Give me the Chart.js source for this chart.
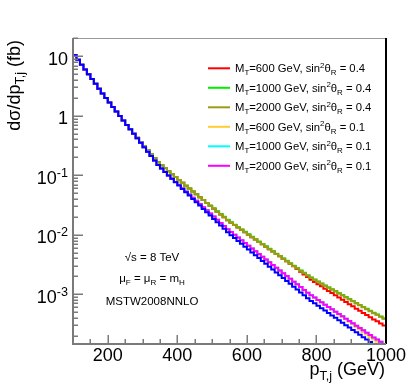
<!DOCTYPE html>
<html>
<head>
<meta charset="utf-8">
<script src="https://cdn.jsdelivr.net/npm/chart.js@4/dist/chart.umd.min.js"></script>
<style>
  html, body { margin: 0; background: #fff; }
  #plot { display: block; }
</style>
</head>
<body>
<canvas id="plot" width="407" height="391"></canvas>
<script>
// histogram bins: 10 GeV wide, from 100 to 1000 GeV
const binStart = 100;
const binWidth = 10;

// dsigma/dpT (fb), one value per bin
const mt600s04 = [
  10.5, 8.71, 7.23, 6.01, 4.99, 4.15, 3.44, 2.86, 2.38, 1.99,
  1.67, 1.41, 1.18, 0.993, 0.836, 0.703, 0.592, 0.501, 0.427, 0.362,
  0.309, 0.265, 0.226, 0.194, 0.166, 0.148, 0.132, 0.117, 0.104, 0.0933,
  0.0836, 0.0746, 0.0668, 0.0598, 0.0536, 0.0479, 0.0429, 0.0384, 0.0343, 0.0307,
  0.0275, 0.0245, 0.0220, 0.0197, 0.0176, 0.0160, 0.0146, 0.0133, 0.0121, 0.0110,
  0.0100, 0.00912, 0.00832, 0.00759, 0.00692, 0.00630, 0.00574, 0.00524, 0.00475, 0.00434,
  0.00395, 0.00360, 0.00327, 0.00296, 0.00266, 0.00239, 0.00216, 0.00195, 0.00176, 0.00161,
  0.00148, 0.00136, 0.00124, 0.00114, 0.00105, 0.000959, 0.000879, 0.000809, 0.000741, 0.000681,
  0.000627, 0.000574, 0.000527, 0.000486, 0.000447, 0.000410, 0.000378, 0.000352, 0.000324, 0.000299
];
const mt1000s04 = [
  10.5, 8.71, 7.23, 6.01, 4.99, 4.15, 3.44, 2.86, 2.38, 1.99,
  1.67, 1.41, 1.18, 0.993, 0.836, 0.703, 0.592, 0.501, 0.427, 0.362,
  0.309, 0.265, 0.226, 0.194, 0.166, 0.148, 0.132, 0.117, 0.104, 0.0933,
  0.0836, 0.0746, 0.0668, 0.0598, 0.0536, 0.0479, 0.0429, 0.0384, 0.0343, 0.0307,
  0.0279, 0.0249, 0.0223, 0.0200, 0.0179, 0.0162, 0.0148, 0.0135, 0.0123, 0.0112,
  0.0102, 0.00926, 0.00844, 0.00770, 0.00702, 0.00639, 0.00583, 0.00532, 0.00482, 0.00441,
  0.00401, 0.00365, 0.00333, 0.00303, 0.00276, 0.00252, 0.00229, 0.00209, 0.00192, 0.00178,
  0.00164, 0.00152, 0.00141, 0.00131, 0.00122, 0.00113, 0.00105, 0.000969, 0.000896, 0.000830,
  0.000771, 0.000714, 0.000662, 0.000614, 0.000569, 0.000527, 0.000489, 0.000458, 0.000424, 0.000394
];
const mt2000s04 = [
  10.5, 8.71, 7.23, 6.01, 4.99, 4.15, 3.44, 2.86, 2.38, 1.99,
  1.67, 1.41, 1.18, 0.993, 0.836, 0.703, 0.592, 0.501, 0.427, 0.362,
  0.309, 0.265, 0.226, 0.194, 0.166, 0.148, 0.132, 0.117, 0.104, 0.0933,
  0.0836, 0.0746, 0.0668, 0.0598, 0.0536, 0.0479, 0.0429, 0.0384, 0.0343, 0.0307,
  0.0275, 0.0245, 0.0220, 0.0197, 0.0176, 0.0160, 0.0146, 0.0133, 0.0121, 0.0110,
  0.0100, 0.00912, 0.00832, 0.00759, 0.00692, 0.00630, 0.00574, 0.00524, 0.00475, 0.00434,
  0.00395, 0.00360, 0.00328, 0.00299, 0.00272, 0.00248, 0.00226, 0.00206, 0.00189, 0.00175,
  0.00162, 0.00150, 0.00139, 0.00129, 0.00120, 0.00111, 0.00103, 0.000955, 0.000883, 0.000818,
  0.000760, 0.000703, 0.000652, 0.000605, 0.000561, 0.000519, 0.000482, 0.000451, 0.000418, 0.000388
];
const mt600s01 = [
  10.5, 8.71, 7.23, 6.01, 4.99, 4.15, 3.44, 2.86, 2.38, 1.99,
  1.67, 1.41, 1.18, 0.993, 0.836, 0.703, 0.592, 0.498, 0.419, 0.352,
  0.296, 0.249, 0.210, 0.177, 0.149, 0.130, 0.114, 0.0995, 0.0871, 0.0773,
  0.0684, 0.0605, 0.0536, 0.0474, 0.0420, 0.0372, 0.0329, 0.0291, 0.0258, 0.0228,
  0.0202, 0.0179, 0.0158, 0.0140, 0.0124, 0.0111, 0.00998, 0.00899, 0.00809, 0.00728,
  0.00655, 0.00587, 0.00528, 0.00475, 0.00428, 0.00384, 0.00345, 0.00310, 0.00279, 0.00250,
  0.00225, 0.00202, 0.00182, 0.00163, 0.00147, 0.00132, 0.00118, 0.00106, 0.000962, 0.000879,
  0.000802, 0.000733, 0.000670, 0.000611, 0.000560, 0.000508, 0.000460, 0.000419, 0.000379, 0.000344,
  0.000313, 0.000283, 0.000256, 0.000233, 0.000211, 0.000191, 0.000174, 0.000159, 0.000145, 0.000132
];
const mt1000s01 = [
  10.5, 8.71, 7.23, 6.01, 4.99, 4.15, 3.44, 2.86, 2.38, 1.99,
  1.67, 1.41, 1.18, 0.993, 0.836, 0.703, 0.592, 0.498, 0.419, 0.352,
  0.296, 0.249, 0.210, 0.177, 0.149, 0.130, 0.114, 0.0995, 0.0871, 0.0773,
  0.0684, 0.0605, 0.0536, 0.0474, 0.0420, 0.0372, 0.0329, 0.0291, 0.0258, 0.0228,
  0.0202, 0.0179, 0.0158, 0.0140, 0.0124, 0.0111, 0.00998, 0.00899, 0.00809, 0.00728,
  0.00655, 0.00587, 0.00528, 0.00475, 0.00428, 0.00384, 0.00345, 0.00310, 0.00279, 0.00250,
  0.00225, 0.00202, 0.00182, 0.00163, 0.00147, 0.00132, 0.00118, 0.00106, 0.000962, 0.000879,
  0.000802, 0.000733, 0.000670, 0.000611, 0.000560, 0.000511, 0.000466, 0.000427, 0.000389, 0.000355,
  0.000325, 0.000296, 0.000270, 0.000248, 0.000226, 0.000206, 0.000188, 0.000174, 0.000159, 0.000146
];
const mt2000s01 = [
  10.5, 8.71, 7.23, 6.01, 4.99, 4.15, 3.44, 2.86, 2.38, 1.99,
  1.67, 1.41, 1.18, 0.993, 0.836, 0.703, 0.592, 0.498, 0.419, 0.352,
  0.296, 0.249, 0.210, 0.177, 0.149, 0.130, 0.114, 0.0995, 0.0871, 0.0773,
  0.0684, 0.0605, 0.0536, 0.0474, 0.0420, 0.0372, 0.0329, 0.0291, 0.0258, 0.0228,
  0.0202, 0.0179, 0.0158, 0.0140, 0.0124, 0.0111, 0.00998, 0.00899, 0.00809, 0.00728,
  0.00655, 0.00587, 0.00528, 0.00475, 0.00428, 0.00384, 0.00345, 0.00310, 0.00279, 0.00250,
  0.00225, 0.00202, 0.00182, 0.00163, 0.00147, 0.00132, 0.00118, 0.00106, 0.000962, 0.000879,
  0.000802, 0.000733, 0.000670, 0.000611, 0.000560, 0.000511, 0.000466, 0.000427, 0.000389, 0.000355,
  0.000325, 0.000296, 0.000270, 0.000248, 0.000226, 0.000206, 0.000188, 0.000174, 0.000159, 0.000146
];
// blue curve (not in the legend)
const blueCurve = [
  10.5, 8.71, 7.23, 6.01, 4.99, 4.15, 3.44, 2.86, 2.38, 1.99,
  1.67, 1.41, 1.18, 0.993, 0.836, 0.703, 0.592, 0.498, 0.419, 0.352,
  0.296, 0.249, 0.210, 0.177, 0.149, 0.130, 0.114, 0.0995, 0.0871, 0.0764,
  0.0671, 0.0590, 0.0519, 0.0456, 0.0401, 0.0352, 0.0310, 0.0272, 0.0239, 0.0210,
  0.0185, 0.0163, 0.0143, 0.0126, 0.0110, 0.00984, 0.00881, 0.00789, 0.00706, 0.00632,
  0.00566, 0.00506, 0.00453, 0.00406, 0.00363, 0.00325, 0.00291, 0.00261, 0.00233, 0.00208,
  0.00187, 0.00167, 0.00150, 0.00134, 0.00120, 0.00107, 0.000959, 0.000859, 0.000774, 0.000705,
  0.000641, 0.000585, 0.000532, 0.000484, 0.000442, 0.000402, 0.000366, 0.000333, 0.000303, 0.000276,
  0.000252, 0.000229, 0.000208, 0.000190, 0.000173, 0.000157, 0.000144, 0.000132, 0.000120, 0.000110
];

const legendMass = ['600', '1000', '2000', '600', '1000', '2000'];
const legendSin2 = ['0.4', '0.4', '0.4', '0.1', '0.1', '0.1'];
const xTicksMajor = [200, 400, 600, 800, 1000];
const yTicksMajor = [1e-3, 1e-2, 1e-1, 1, 10];
const yTickBase = ['10', '10', '10', '1', '10'];
const yTickExp = ['-3', '-2', '-1', '', ''];

const FONT = '"Liberation Sans", Arial, Helvetica, sans-serif';

function histPoints(vals) {
  const pts = vals.map((v, i) => ({ x: binStart + i * binWidth, y: v }));
  pts.push({ x: binStart + vals.length * binWidth, y: vals[vals.length - 1] });
  return pts;
}

// draw text with sub/superscripts, returns width
function drawRich(ctx, x, y, parts, size, measureOnly) {
  let cx = x;
  parts.forEach(p => {
    const small = p.sub || p.sup;
    const s = small ? size * 0.7 : size;
    ctx.font = s + 'px ' + FONT;
    const dy = p.sub ? size * 0.27 : (p.sup ? -size * 0.4 : 0);
    if (!measureOnly) ctx.fillText(p.t, cx, y + dy);
    cx += ctx.measureText(p.t).width;
  });
  return cx - x;
}

const series = [
  { vals: mt600s04, color: '#ff0000', order: 6 },
  { vals: mt1000s04, color: '#00ee00', order: 5 },
  { vals: mt2000s04, color: '#9c9c14', order: 4 },
  { vals: mt600s01, color: '#ffcc33', order: 3 },
  { vals: mt1000s01, color: '#00ffff', order: 2 },
  { vals: mt2000s01, color: '#ff00ff', order: 1 },
  { vals: blueCurve, color: '#0000ff', order: 0 }
];

const rootFrame = {
  id: 'rootFrame',
  afterDatasetsDraw(chart) {
    const { ctx, chartArea: a, scales: { x, y } } = chart;
    ctx.save();
    ctx.lineCap = 'butt';

    // frame
    ctx.strokeStyle = '#999';
    ctx.lineWidth = 1;
    ctx.beginPath(); ctx.moveTo(a.left, a.top + 0.5); ctx.lineTo(a.right, a.top + 0.5); ctx.stroke();
    ctx.strokeStyle = '#000';
    ctx.lineWidth = 2;
    ctx.beginPath(); ctx.moveTo(a.right, a.top); ctx.lineTo(a.right, a.bottom); ctx.stroke();
    ctx.strokeStyle = '#7a7a7a';
    ctx.beginPath();
    ctx.moveTo(a.left, a.top); ctx.lineTo(a.left, a.bottom); ctx.lineTo(a.right, a.bottom);
    ctx.stroke();

    // y ticks
    ctx.lineWidth = 1.5;
    for (let n = -4; n <= 1; n++) {
      for (let k = 1; k <= 9; k++) {
        const v = k * Math.pow(10, n);
        if (v < y.min || v > y.max) continue;
        const py = Math.round(y.getPixelForValue(v)) + 0.25;
        const len = k === 1 ? 10 : 5;
        ctx.beginPath(); ctx.moveTo(a.left, py); ctx.lineTo(a.left + len, py); ctx.stroke();
      }
    }
    // x ticks
    for (let v = 150; v < 1000; v += 50) {
      const px = Math.round(x.getPixelForValue(v)) + 0.25;
      const len = v % 200 === 0 ? 9 : 5;
      ctx.beginPath(); ctx.moveTo(px, a.bottom); ctx.lineTo(px, a.bottom - len); ctx.stroke();
    }

    // tick labels
    ctx.fillStyle = '#000';
    ctx.textBaseline = 'alphabetic';
    ctx.textAlign = 'left';
    ctx.font = '18px ' + FONT;
    xTicksMajor.forEach(v => {
      const w = ctx.measureText(String(v)).width;
      ctx.fillText(String(v), x.getPixelForValue(v) - w / 2, 361);
    });
    yTicksMajor.forEach((v, i) => {
      const parts = [{ t: yTickBase[i] }];
      if (yTickExp[i]) parts.push({ t: yTickExp[i], sup: true });
      const w = drawRich(ctx, 0, 0, parts, 18, true);
      drawRich(ctx, 68 - w, y.getPixelForValue(v) + 8.5, parts, 18);
    });

    // axis titles
    const xTitle = [{ t: 'p' }, { t: 'T,j', sub: true }, { t: ' (GeV)' }];
    const xw = drawRich(ctx, 0, 0, xTitle, 18, true);
    drawRich(ctx, 385 - xw, 375, xTitle, 18);

    const yTitle = [{ t: 'dσ/dp' }, { t: 'T,j', sub: true }, { t: ' (fb)' }];
    const yw = drawRich(ctx, 0, 0, yTitle, 18, true);
    ctx.save();
    ctx.translate(19.5, 40);
    ctx.rotate(-Math.PI / 2);
    drawRich(ctx, -yw, 0, yTitle, 18);
    ctx.restore();

    // legend
    const legY0 = 68.3, legStep = 19.5;
    legendMass.forEach((m, i) => {
      const ly = legY0 + i * legStep;
      ctx.strokeStyle = series[i].color;
      ctx.lineWidth = 2;
      ctx.beginPath(); ctx.moveTo(208, ly); ctx.lineTo(230, ly); ctx.stroke();
      drawRich(ctx, 235, ly + 4, [
        { t: 'M' }, { t: 'T', sub: true }, { t: '=' + m + ' GeV, sin' },
        { t: '2', sup: true }, { t: 'θ' }, { t: 'R', sub: true }, { t: ' = ' + legendSin2[i] }
      ], 11.3);
    });

    // annotations
    const notes = [
      [{ t: '√s = 8 TeV' }],
      [{ t: 'μ' }, { t: 'F', sub: true }, { t: ' = μ' }, { t: 'R', sub: true }, { t: ' = m' }, { t: 'H', sub: true }],
      [{ t: 'MSTW2008NNLO' }]
    ];
    const noteY = [261, 282, 305];
    notes.forEach((parts, i) => {
      const w = drawRich(ctx, 0, 0, parts, 11.5, true);
      drawRich(ctx, 152 - w / 2, noteY[i], parts, 11.5);
    });

    ctx.restore();
  }
};

new Chart(document.getElementById('plot'), {
  type: 'line',
  data: {
    datasets: series.map(s => ({
      data: histPoints(s.vals),
      borderColor: s.color,
      borderWidth: 2,
      stepped: 'before',
      pointRadius: 0,
      fill: false,
      order: s.order
    }))
  },
  options: {
    responsive: false,
    animation: false,
    devicePixelRatio: 1,
    layout: { padding: { left: 73, right: 21, top: 38, bottom: 47 } },
    plugins: { legend: { display: false }, tooltip: { enabled: false } },
    scales: {
      x: { type: 'linear', min: 100, max: 1000, display: false },
      y: { type: 'logarithmic', min: 1.46e-4, max: 20.3, display: false }
    }
  },
  plugins: [rootFrame]
});
</script>
</body>
</html>
